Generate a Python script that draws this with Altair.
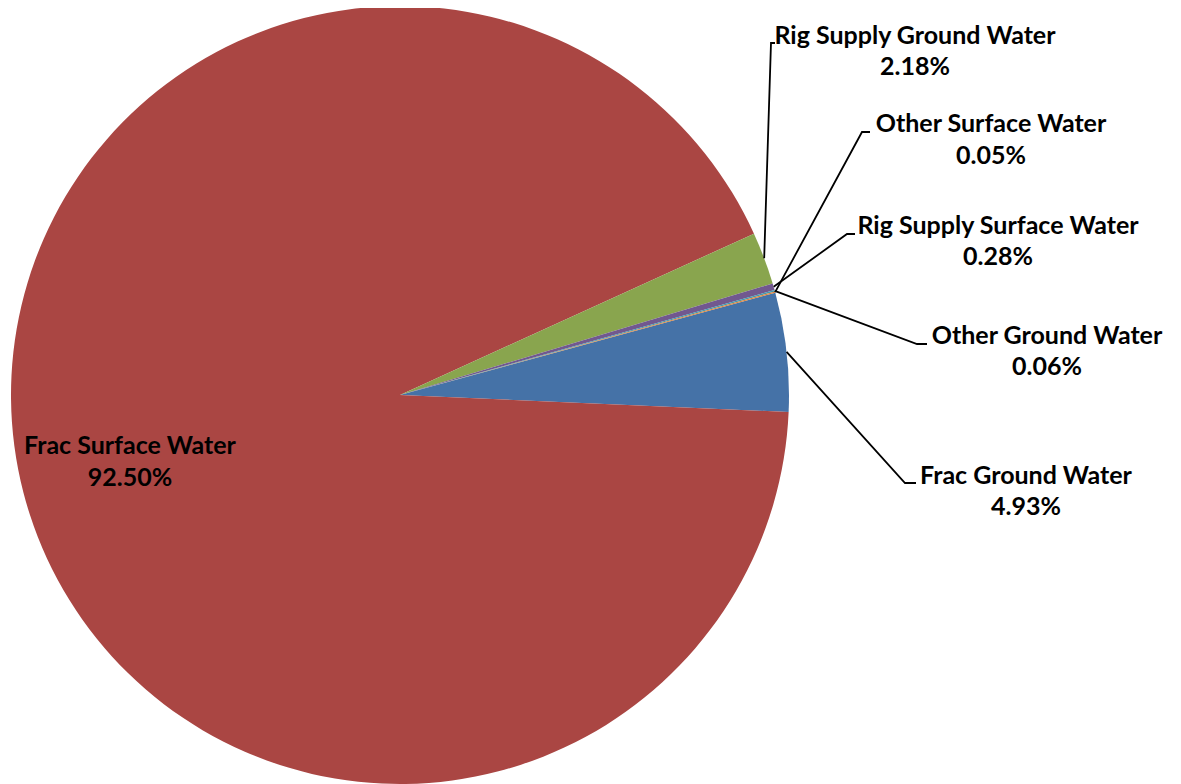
import math
import altair as alt
import pandas as pd

# ---- data ----
categories = ["Frac Ground Water", "Frac Surface Water", "Rig Supply Ground Water",
              "Rig Supply Surface Water", "Other Ground Water", "Other Surface Water"]
shares = [4.93, 92.50, 2.18, 0.28, 0.06, 0.05]
share_labels = ["4.93%", "92.50%", "2.18%", "0.28%", "0.06%", "0.05%"]

# ---- styles / layout ----
colors = ["#4572A7", "#AA4643", "#89A54E", "#71588F", "#4198AF", "#DB843D"]
W, H = 1165, 776
OFF = 8
CX, CY, R = 400, 395, 389
START_DEG = 74.75
FONT = "Lato"
FS = 25
# label: (center x, name baseline, percent baseline)
label_pos = {
    "Frac Ground Water": (1026, 484, 515),
    "Frac Surface Water": (130, 454, 486),
    "Rig Supply Ground Water": (915, 44, 75),
    "Rig Supply Surface Water": (998, 234, 265),
    "Other Ground Water": (1047, 344, 375),
    "Other Surface Water": (991, 132, 164),
}
# leader: (elbow x, elbow y, end x)
leader_pos = {
    "Frac Ground Water": (905, 483, 916),
    "Rig Supply Ground Water": (771, 43, 775),
    "Rig Supply Surface Water": (847, 234, 855),
    "Other Ground Water": (917, 344, 927),
    "Other Surface Water": (862, 132, 870),
}

df = pd.DataFrame({"category": categories, "share": shares,
                   "pct": share_labels, "idx": list(range(len(categories)))})

lab_rows = []
for c, p in zip(categories, share_labels):
    x, yn, yp = label_pos[c]
    lab_rows.append({"x": x, "y": yn, "t": c})
    lab_rows.append({"x": x, "y": yp, "t": p})
labels = pd.DataFrame(lab_rows)

# leader lines: start at the slice's mid-angle on the rim
total = sum(shares)
line_rows = []
cum = 0.0
for c, s in zip(categories, shares):
    mid = START_DEG + (cum + s / 2) / total * 360.0
    cum += s
    if c not in leader_pos:
        continue
    a = math.radians(mid)
    sx = CX + R * math.sin(a)
    sy = CY - R * math.cos(a)
    ex, ey, endx = leader_pos[c]
    line_rows += [{"c": c, "o": 0, "x": sx, "y": sy},
                  {"c": c, "o": 1, "x": ex, "y": ey},
                  {"c": c, "o": 2, "x": endx, "y": ey}]
lines = pd.DataFrame(line_rows)

xs = alt.Scale(domain=[OFF, OFF + W], nice=False, zero=False)
ys = alt.Scale(domain=[OFF, OFF + H], nice=False, zero=False, reverse=True)

start = math.radians(START_DEG)
pie = alt.Chart(df).mark_arc(outerRadius=R).encode(
    theta=alt.Theta("share:Q", stack=True,
                    scale=alt.Scale(range=[start, start + 2 * math.pi])),
    color=alt.Color("category:N", scale=alt.Scale(domain=categories, range=colors),
                    legend=None),
    order=alt.Order("idx:Q"),
    x=alt.value(CX - OFF),
    y=alt.value(CY - OFF),
)

leaders = alt.Chart(lines).mark_line(color="black", strokeWidth=1.8).encode(
    x=alt.X("x:Q", scale=xs, axis=None),
    y=alt.Y("y:Q", scale=ys, axis=None),
    detail="c:N",
    order="o:Q",
)

texts = alt.Chart(labels).mark_text(
    font=FONT, fontSize=FS, fontWeight="bold", color="black",
    align="center", baseline="alphabetic"
).encode(
    x=alt.X("x:Q", scale=xs, axis=None),
    y=alt.Y("y:Q", scale=ys, axis=None),
    text="t:N",
)

chart = alt.layer(pie, leaders, texts).properties(
    width=W, height=H, padding=0,
    autosize=alt.AutoSizeParams(type="none"),
).configure_view(stroke=None)

chart.save("out.html", embed_options={"renderer": "svg", "actions": False})
